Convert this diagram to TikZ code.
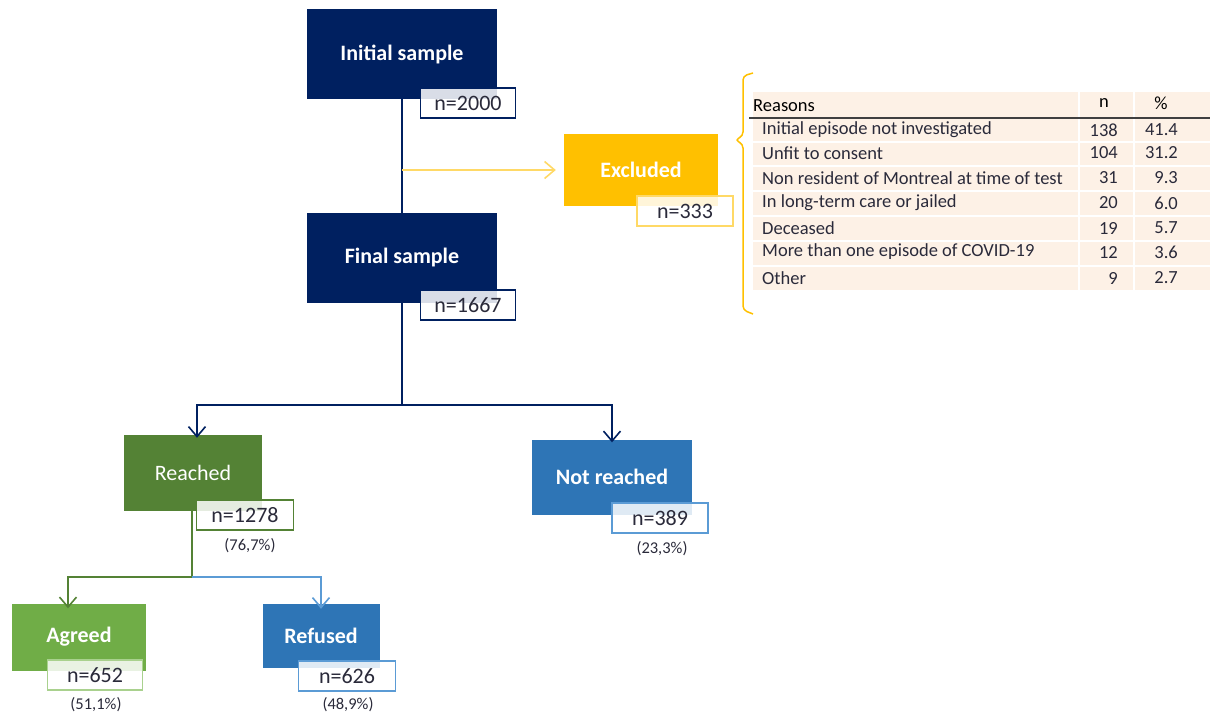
\documentclass[tikz,border=0pt]{standalone}
\usepackage{fontspec}
\setmainfont{Carlito}
\usetikzlibrary{arrows.meta}
\definecolor{navy}{HTML}{002060}
\definecolor{gold}{HTML}{FFC000}
\definecolor{paleGold}{HTML}{FFD966}
\definecolor{darkGreen}{HTML}{548235}
\definecolor{lightGreen}{HTML}{70AD47}
\definecolor{paleGreen}{HTML}{A9D18E}
\definecolor{midBlue}{HTML}{2E75B6}
\definecolor{paleBlue}{HTML}{5B9BD5}
\definecolor{peach}{HTML}{FDF1E6}
\definecolor{txt}{HTML}{2A2A3A}

\begin{document}
\begin{tikzpicture}[x=1pt, y=-1pt]
    \tikzset{box/.style = {shape=rectangle, inner sep=0pt, text=white, font=\fontsize{22}{24}\selectfont\bfseries}}
    \tikzset{count/.style = {shape=rectangle, draw, line width=1.4pt, fill=white, fill opacity=0.85, text opacity=1, inner sep=0pt, minimum width=95pt, minimum height=30pt, text=txt, font=\fontsize{22}{24}\selectfont}}
    \tikzset{pct/.style = {text=txt, font=\fontsize{16.5}{18}\selectfont}}
    \tikzset{cell/.style = {anchor=west, inner sep=0pt, text=txt, font=\fontsize{18.5}{20}\selectfont}}
    \tikzset{num/.style = {anchor=east, inner sep=0pt, text=txt, font=\fontsize{18.5}{20}\selectfont}}
    \tikzset{edge/.style = {draw=navy, line width=1.5pt}}
    \tikzset{tip/.style = {-{Straight Barb[length=10pt, width=17pt, line width=1.6pt]}}}

    \useasboundingbox (0,0) rectangle (1210,715);

    % vertices
    \node[box, fill=navy, minimum width=190pt, minimum height=90pt] (init) at (402,54) {Initial sample};
    \node[count, draw=navy] (ninit) at (468,103) {n=2000};
    \node[box, fill=gold, minimum width=154pt, minimum height=72pt] (excl) at (641,170) {Excluded};
    \node[count, draw=paleGold, minimum width=96pt] (nexcl) at (685,211) {n=333};
    \node[box, fill=navy, minimum width=190pt, minimum height=90pt] (final) at (402,258) {Final sample};
    \node[count, draw=navy] (nfinal) at (468,305) {n=1667};

    \node[box, fill=darkGreen, minimum width=138pt, minimum height=76pt, font=\fontsize{22}{24}\selectfont] (reached) at (193,473) {Reached};
    \node[count, draw=darkGreen, minimum width=97pt] (nreached) at (245,515) {n=1278};
    \node[pct] (preached) at (250,546) {(76,7\%)};
    \node[box, fill=midBlue, minimum width=160pt, minimum height=75pt] (notreached) at (612,477) {Not reached};
    \node[count, draw=paleBlue, minimum width=96pt] (nnotreached) at (660,518) {n=389};
    \node[pct] (pnotreached) at (662,549) {(23,3\%)};

    \node[box, fill=lightGreen, minimum width=134pt, minimum height=67pt] (agreed) at (79,637) {Agreed};
    \node[count, draw=paleGreen, minimum width=95pt] (nagreed) at (95,675) {n=652};
    \node[pct] (pagreed) at (96,705) {(51,1\%)};
    \node[box, fill=midBlue, minimum width=117pt, minimum height=64pt] (refused) at (321,636) {Refused};
    \node[count, draw=paleBlue, minimum width=97pt] (nrefused) at (347,676) {n=626};
    \node[pct] (prefused) at (348,705) {(48,9\%)};

    % split points
    \coordinate (split1) at (402,170);
    \coordinate (split2) at (402,405);
    \coordinate (split3) at (192,577);

    % edges
    \draw[edge] (init.south) -- (final.north);
    \draw[draw=paleGold, line width=1.5pt, tip] (split1) -- ([xshift=-8pt]excl.west);
    \draw[edge] (final.south) -- (split2);
    \draw[edge, tip] (split2) -| ([xshift=4pt, yshift=-3pt]reached.north);
    \draw[edge, tip] (split2) -| ([yshift=-3pt]notreached.north);
    \draw[draw=darkGreen, line width=1.5pt] (reached.south -| split3) -- (split3);
    \draw[draw=darkGreen, line width=1.5pt, tip] (split3) -| ([xshift=-11pt, yshift=-5pt]agreed.north);
    \draw[draw=paleBlue, line width=1.5pt, tip] (split3) -| ([yshift=-5pt]refused.north);

    % reasons table
    \fill[peach] (753,92) rectangle (1210,290);
    \draw[white, line width=1.5pt] (1079,92) -- (1079,290) (1134,92) -- (1134,290);
    \draw[white, line width=1.5pt] (753,142) -- (1210,142) (753,166) -- (1210,166) (753,191) -- (1210,191)
        (753,216) -- (1210,216) (753,241) -- (1210,241) (753,266) -- (1210,266);
    \draw[draw=black!75, line width=1.6pt] (749,118) -- (1210,118);
    \node[cell, text=black] (hreason) at (753,106) {Reasons};
    \node[cell, anchor=center, text=black] (hn) at (1104,103) {n};
    \node[cell, anchor=center, text=black] (hp) at (1161,103) {\%};

    \node[cell] (r1) at (762,130) {Initial episode not investigated};
    \node[num] (r1n) at (1118,130) {138};
    \node[num] (r1p) at (1178,130) {41.4};
    \node[cell] (r2) at (762,153) {Unfit to consent};
    \node[num] (r2n) at (1118,153) {104};
    \node[num] (r2p) at (1178,153) {31.2};
    \node[cell] (r3) at (762,178) {Non resident of Montreal at time of test};
    \node[num] (r3n) at (1118,178) {31};
    \node[num] (r3p) at (1178,178) {9.3};
    \node[cell] (r4) at (762,203) {In long-term care or jailed};
    \node[num] (r4n) at (1118,203) {20};
    \node[num] (r4p) at (1178,203) {6.0};
    \node[cell] (r5) at (762,228) {Deceased};
    \node[num] (r5n) at (1118,228) {19};
    \node[num] (r5p) at (1178,228) {5.7};
    \node[cell] (r6) at (762,252) {More than one episode of COVID-19};
    \node[num] (r6n) at (1118,252) {12};
    \node[num] (r6p) at (1178,252) {3.6};
    \node[cell] (r7) at (762,278) {Other};
    \node[num] (r7n) at (1118,278) {9};
    \node[num] (r7p) at (1178,278) {2.7};

    % brace
    \draw[draw=gold, line width=1.5pt, rounded corners=4pt] (753,73) -- (743,76) -- (743,136) -- (735,140)
        -- (743,144) -- (743,310) -- (753,314);
\end{tikzpicture}
\end{document}
